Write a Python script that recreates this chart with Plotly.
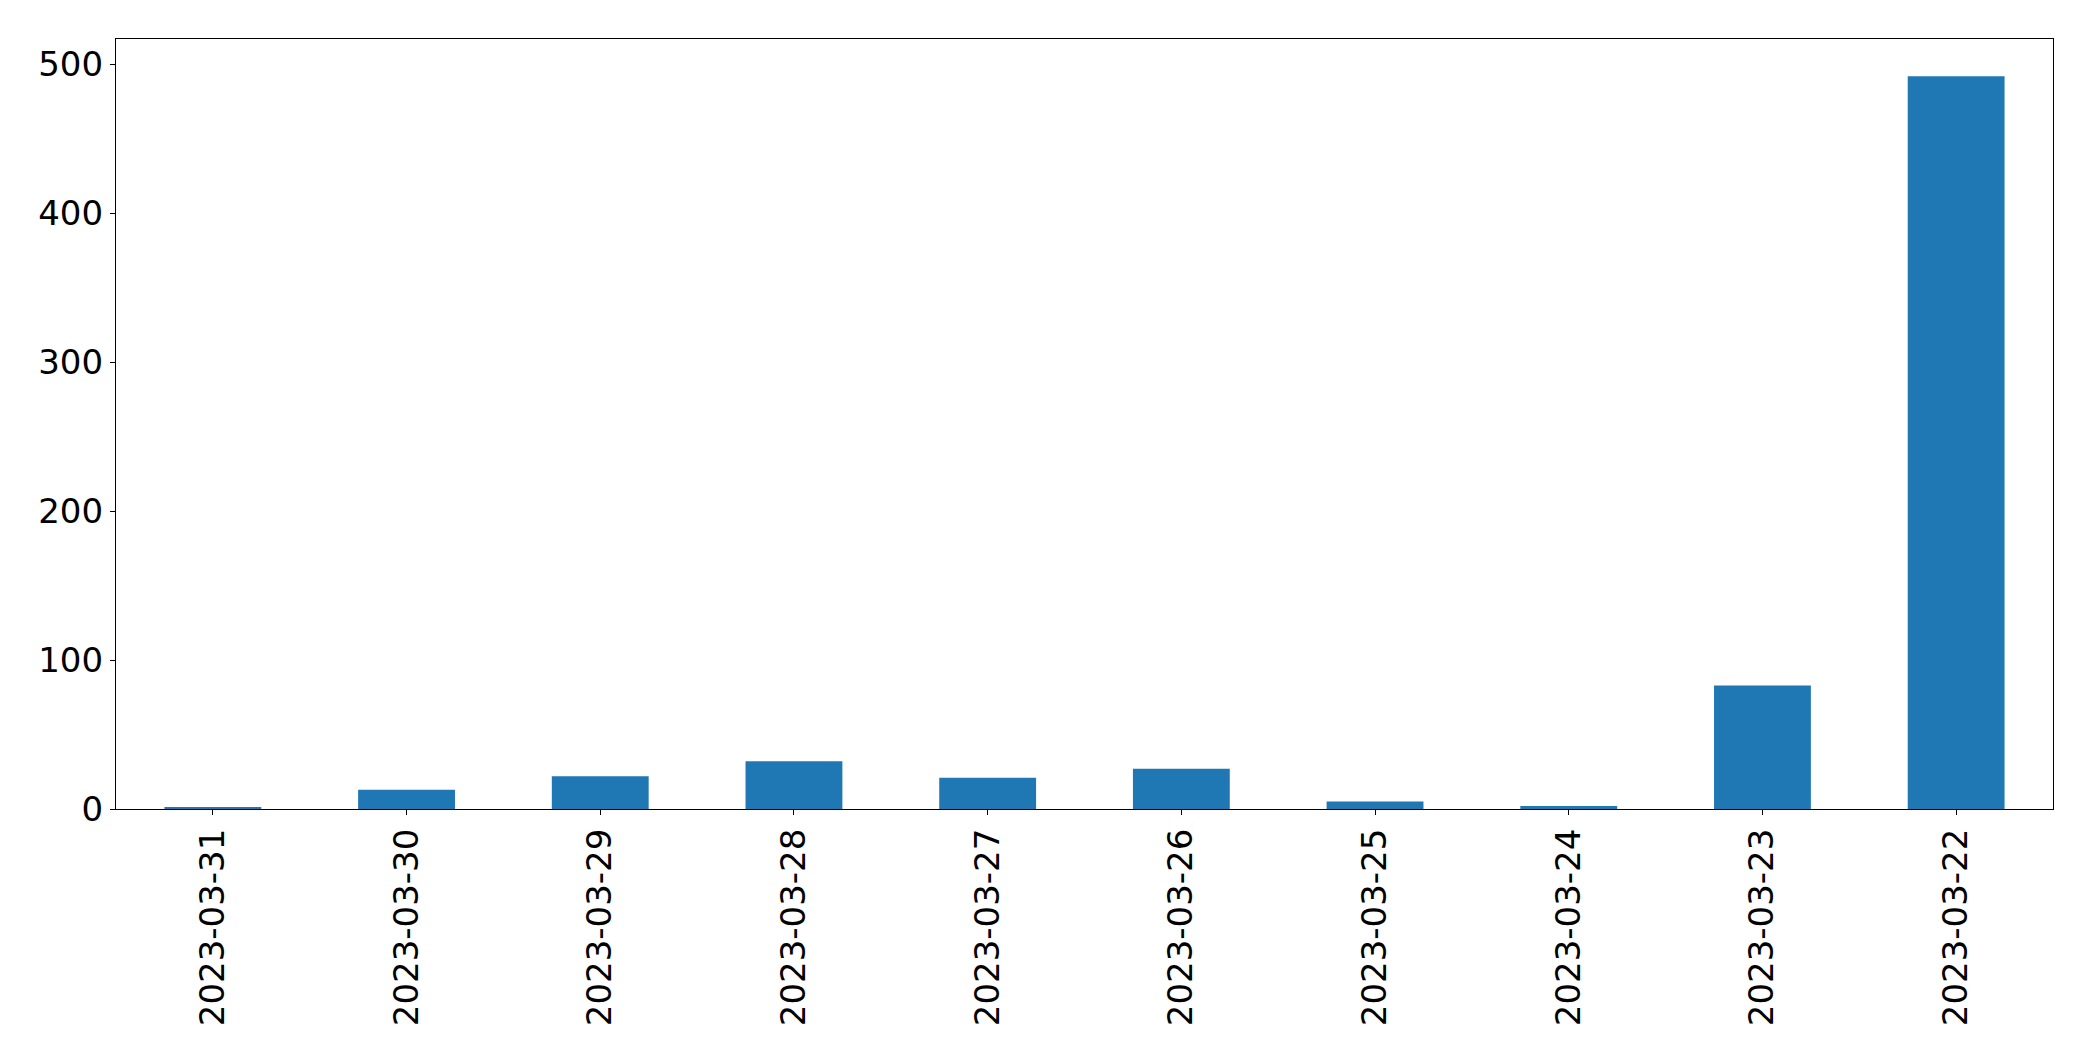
import plotly.graph_objects as go

dates = ["2023-03-31", "2023-03-30", "2023-03-29", "2023-03-28", "2023-03-27",
         "2023-03-26", "2023-03-25", "2023-03-24", "2023-03-23", "2023-03-22"]
counts = [1, 13, 22, 32, 21, 27, 5, 2, 83, 492]
y_ticks = [0, 100, 200, 300, 400, 500]

fig = go.Figure(go.Bar(x=dates, y=counts, width=0.5, marker_color="#1f77b4",
                       marker_line_width=0))

font = dict(family="DejaVu Sans", size=34, color="black")
fig.update_layout(
    width=2085, height=1053,
    margin=dict(l=108, r=40, t=31, b=252),
    paper_bgcolor="white", plot_bgcolor="white",
    showlegend=False,
    font=font,
)
fig.update_xaxes(type="category", range=[-0.5, 9.5], tickangle=-90,
                 showline=True, linecolor="black", linewidth=1.1, mirror=True,
                 ticks="outside", ticklen=5, tickwidth=1.1, tickcolor="black",
                 showgrid=False, zeroline=False, tickfont=font)
fig.update_yaxes(range=[0, 517], tickvals=y_ticks,
                 showline=True, linecolor="black", linewidth=1.1, mirror=True,
                 ticks="outside", ticklen=5, tickwidth=1.1, tickcolor="black",
                 showgrid=False, zeroline=False, tickfont=font)

fig.write_html("out.html")
